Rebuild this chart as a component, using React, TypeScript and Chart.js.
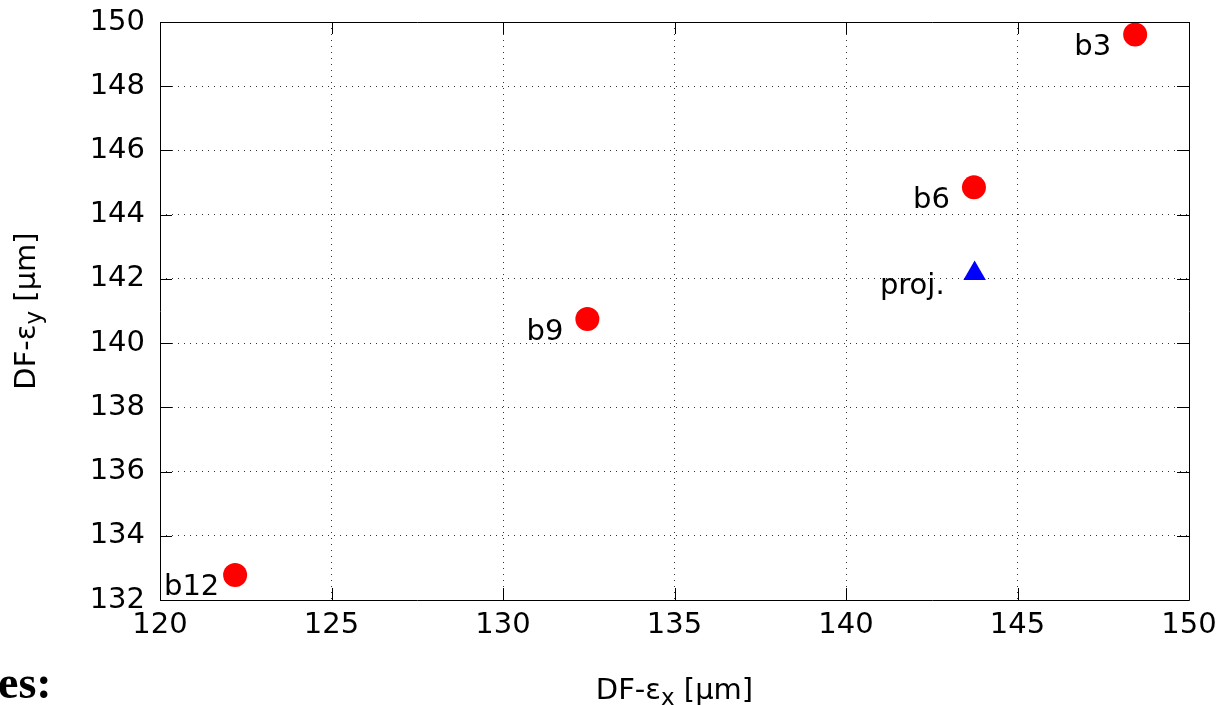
import React, { useEffect, useRef } from 'react';
import { Chart, registerables } from 'chart.js';

Chart.register(...registerables);

// ---- data ----
const beamNames = ['b3', 'b6', 'b9', 'b12'];
const beamX = [148.43, 143.73, 132.46, 122.19];
const beamY = [149.61, 144.85, 140.75, 132.78];

const projNames = ['proj.'];
const projX = [143.75];
const projY = [142.17];

const xMin = 120;
const xMax = 150;
const xStep = 5;
const yMin = 132;
const yMax = 150;
const yStep = 2;

const xTitleMain = 'DF-ε';
const xTitleSub = 'x';
const xTitleTail = ' [µm]';
const yTitleMain = 'DF-ε';
const yTitleSub = 'y';
const yTitleTail = ' [µm]';

const FONT_FAMILY = '"DejaVu Sans", sans-serif';
const FONT_SIZE = 29;

function drawRich(ctx: CanvasRenderingContext2D, main: string, sub: string, tail: string, cx: number, baseline: number) {
  const big = `${FONT_SIZE}px ${FONT_FAMILY}`;
  const small = `${Math.round(FONT_SIZE * 0.8)}px ${FONT_FAMILY}`;
  ctx.font = big;
  const w1 = ctx.measureText(main).width;
  const w3 = ctx.measureText(tail).width;
  ctx.font = small;
  const w2 = ctx.measureText(sub).width;
  const total = w1 + w2 + w3;
  let x = cx - total / 2;
  ctx.textAlign = 'left';
  ctx.textBaseline = 'alphabetic';
  ctx.fillStyle = '#000';
  ctx.font = big;
  ctx.fillText(main, x, baseline);
  x += w1;
  ctx.font = small;
  ctx.fillText(sub, x, baseline + FONT_SIZE * 0.22);
  x += w2;
  ctx.font = big;
  ctx.fillText(tail, x, baseline);
}

const framePlugin = {
  id: 'frameTicks',
  afterDatasetsDraw(chart: any) {
    const { ctx, chartArea, scales } = chart;
    const { left, right, top, bottom } = chartArea;
    const tl = 12;
    ctx.save();
    ctx.strokeStyle = '#000';
    ctx.lineWidth = 1;
    ctx.beginPath();
    ctx.rect(Math.round(left) + 0.5, Math.round(top) + 0.5, Math.round(right - left), Math.round(bottom - top));
    scales.x.ticks.forEach((t: any) => {
      const px = Math.round(scales.x.getPixelForValue(t.value)) + 0.5;
      ctx.moveTo(px, bottom);
      ctx.lineTo(px, bottom - tl);
      ctx.moveTo(px, top);
      ctx.lineTo(px, top + tl);
    });
    scales.y.ticks.forEach((t: any) => {
      const py = Math.round(scales.y.getPixelForValue(t.value)) + 0.5;
      ctx.moveTo(left, py);
      ctx.lineTo(left + tl, py);
      ctx.moveTo(right, py);
      ctx.lineTo(right - tl, py);
    });
    ctx.stroke();

    // point labels
    ctx.font = `${FONT_SIZE}px ${FONT_FAMILY}`;
    ctx.fillStyle = '#000';
    ctx.textAlign = 'left';
    ctx.textBaseline = 'alphabetic';
    chart.data.datasets.forEach((ds: any, di: number) => {
      const meta = chart.getDatasetMeta(di);
      meta.data.forEach((el: any, i: number) => {
        const name = ds.names[i];
        const w = ctx.measureText(name).width;
        let x = el.x + ds.labelDx - w;
        if (x < left + 4) x = left + 4;
        ctx.fillText(name, x, el.y + 20.5);
      });
    });

    // axis titles
    drawRich(ctx, xTitleMain, xTitleSub, xTitleTail, (left + right) / 2, 699);
    ctx.save();
    ctx.translate(35, (top + bottom) / 2);
    ctx.rotate(-Math.PI / 2);
    drawRich(ctx, yTitleMain, yTitleSub, yTitleTail, 0, 0);
    ctx.restore();
    ctx.restore();
  },
};

export default function App() {
  const ref = useRef<HTMLCanvasElement | null>(null);
  useEffect(() => {
    if (!ref.current) return;
    const chart = new Chart(ref.current, {
      type: 'scatter',
      data: {
        datasets: [
          {
            label: 'beams',
            data: beamX.map((x, i) => ({ x, y: beamY[i] })),
            names: beamNames,
            labelDx: -24,
            backgroundColor: '#ff0000',
            borderWidth: 0,
            pointRadius: 12,
            pointHoverRadius: 12,
            pointStyle: 'circle',
          } as any,
          {
            label: 'proj',
            data: projX.map((x, i) => ({ x, y: projY[i] })),
            names: projNames,
            labelDx: -30,
            backgroundColor: '#0000ff',
            borderWidth: 0,
            pointRadius: 13,
            pointHoverRadius: 13,
            pointStyle: 'triangle',
          } as any,
        ],
      },
      options: {
        animation: false,
        responsive: false,
        events: [],
        layout: { padding: { left: 0, right: 36, top: 22, bottom: 0 } },
        plugins: { legend: { display: false }, tooltip: { enabled: false } },
        scales: {
          x: {
            type: 'linear',
            min: xMin,
            max: xMax,
            afterFit: (s: any) => { s.height = 105; s.paddingLeft = 0; s.paddingRight = 0; },
            ticks: { stepSize: xStep, color: '#000', font: { family: FONT_FAMILY, size: FONT_SIZE }, padding: 8, maxRotation: 0 },
            grid: { color: 'rgba(0,0,0,0.8)', lineWidth: 1, drawTicks: false },
            border: { display: false, dash: [1, 5] },
          },
          y: {
            type: 'linear',
            min: yMin,
            max: yMax,
            afterFit: (s: any) => { s.width = 160; s.paddingTop = 0; s.paddingBottom = 0; },
            ticks: { stepSize: yStep, color: '#000', font: { family: FONT_FAMILY, size: FONT_SIZE }, padding: 15 },
            grid: { color: 'rgba(0,0,0,0.8)', lineWidth: 1, drawTicks: false },
            border: { display: false, dash: [1, 5] },
          },
        },
      },
      plugins: [framePlugin],
    });
    return () => chart.destroy();
  }, []);

  return (
    <div style={{ position: 'fixed', left: 0, top: 0, width: 1225, height: 705, background: '#fff', overflow: 'hidden' }}>
      <canvas ref={ref} width={1225} height={705} style={{ position: 'absolute', left: 0, top: 0, width: 1225, height: 705 }} />
      <div style={{ position: 'absolute', left: -2, top: 660, fontFamily: '"Liberation Serif", serif', fontWeight: 'bold', fontSize: 46, lineHeight: '46px', whiteSpace: 'nowrap' }}>es:</div>
    </div>
  );
}
